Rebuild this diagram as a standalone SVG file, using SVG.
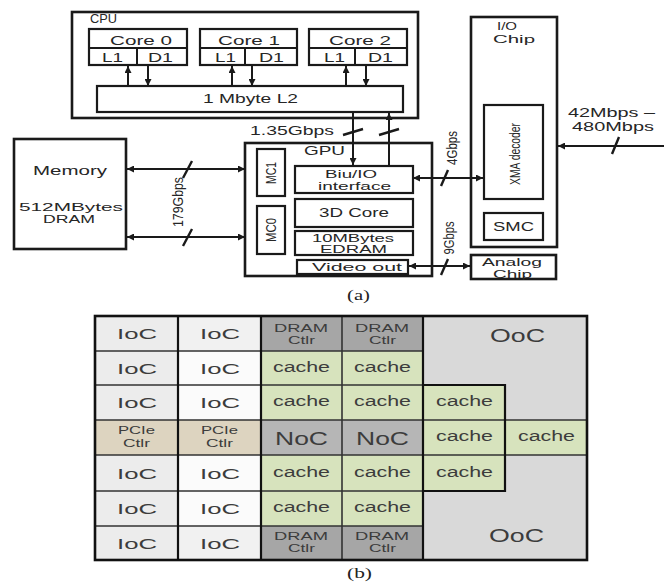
<svg xmlns="http://www.w3.org/2000/svg" width="664" height="583" viewBox="0 0 664 583">
<defs>
<style>
.bx{fill:#fff;stroke:#1a1a1a;stroke-width:2.2}
.ob{fill:#fff;stroke:#1a1a1a;stroke-width:2.6}
.t{font-family:"Liberation Sans",Arial,sans-serif;font-size:13px;fill:#262626}
.t2{font-size:11.5px}
.tv{font-size:14px}
.cap{font-family:"Liberation Serif","Times New Roman",serif;font-size:14px;fill:#222}
.ln{stroke:#1a1a1a;stroke-width:2;fill:none}
.sl{stroke:#1a1a1a;stroke-width:2.4;fill:none}
.gt{font-family:"Liberation Sans",Arial,sans-serif;fill:#3c3c3c}
.ioc{font-size:15.5px}
.ca{font-size:14px}
.sm{font-size:10.5px}
.big{font-size:18px}
.c0{fill:#ececec}
.c1{fill:#fbfbfb}
.c1d{fill:#f1f1f1}
.dr{fill:#a6a6a6}
.ch{fill:#d7e3bd}
.pc{fill:#ddd4c0}
.nc{fill:#b6b6b6}
.oo{fill:#d9d9d9}
.gl{stroke:#333;stroke-width:1.6;fill:none}
.gk{stroke:#111;stroke-width:2.2;fill:none}
</style>
<marker id="ah" viewBox="0 0 10 10" refX="10" refY="5" markerWidth="8" markerHeight="7" orient="auto-start-reverse" markerUnits="userSpaceOnUse">
<path d="M0,0 L10,5 L0,10 z" fill="#1a1a1a"/>
</marker>
</defs>
<rect width="664" height="583" fill="#fff"/>

<!-- Part (a) -->
<g id="cpu">
<rect class="ob" x="72" y="12" width="346" height="106"/>
<text class="t" x="90" y="23" textLength="27" lengthAdjust="spacingAndGlyphs">CPU</text>
</g>
<g id="core0">
<rect class="bx" x="89" y="29" width="98" height="36"/>
<line class="ln" x1="89" y1="48" x2="187" y2="48"/>
<line class="ln" x1="137" y1="48" x2="137" y2="65"/>
<text class="t" x="110" y="45" textLength="62" lengthAdjust="spacingAndGlyphs">Core 0</text>
<text class="t" x="102" y="62" textLength="21" lengthAdjust="spacingAndGlyphs">L1</text>
<text class="t" x="148" y="62" textLength="25" lengthAdjust="spacingAndGlyphs">D1</text>
</g>
<g id="core1">
<rect class="bx" x="200" y="29" width="97" height="36"/>
<line class="ln" x1="200" y1="48" x2="297" y2="48"/>
<line class="ln" x1="245" y1="48" x2="245" y2="65"/>
<text class="t" x="218" y="45" textLength="62" lengthAdjust="spacingAndGlyphs">Core 1</text>
<text class="t" x="215" y="62" textLength="21" lengthAdjust="spacingAndGlyphs">L1</text>
<text class="t" x="259" y="62" textLength="25" lengthAdjust="spacingAndGlyphs">D1</text>
</g>
<g id="core2">
<rect class="bx" x="309" y="29" width="98" height="36"/>
<line class="ln" x1="309" y1="48" x2="407" y2="48"/>
<line class="ln" x1="355" y1="48" x2="355" y2="65"/>
<text class="t" x="329" y="45" textLength="62" lengthAdjust="spacingAndGlyphs">Core 2</text>
<text class="t" x="324" y="62" textLength="21" lengthAdjust="spacingAndGlyphs">L1</text>
<text class="t" x="368" y="62" textLength="25" lengthAdjust="spacingAndGlyphs">D1</text>
</g>
<g id="l2">
<rect class="bx" x="97" y="86" width="306" height="26"/>
<text class="t" x="203" y="103" textLength="95" lengthAdjust="spacingAndGlyphs">1 Mbyte L2</text>
</g>

<g id="memory">
<rect class="ob" x="14" y="139" width="112" height="110"/>
<text class="t" x="33" y="175" textLength="74" lengthAdjust="spacingAndGlyphs">Memory</text>
<text class="t t2" x="19" y="211" textLength="104" lengthAdjust="spacingAndGlyphs">512MBytes</text>
<text class="t t2" x="43" y="223" textLength="52" lengthAdjust="spacingAndGlyphs">DRAM</text>
</g>

<g id="gpu">
<rect class="ob" x="245" y="143" width="187" height="133"/>
<text class="t" x="304" y="155" textLength="41" lengthAdjust="spacingAndGlyphs">GPU</text>
</g>
<g id="mc1">
<rect class="bx" x="257" y="149" width="28" height="47"/>
<text class="t tv" transform="translate(271,173) rotate(-90)" x="-11" y="5" textLength="22" lengthAdjust="spacingAndGlyphs">MC1</text>
</g>
<g id="mc0">
<rect class="bx" x="257" y="206" width="28" height="48"/>
<text class="t tv" transform="translate(271,230) rotate(-90)" x="-12" y="5" textLength="24" lengthAdjust="spacingAndGlyphs">MC0</text>
</g>
<g id="biu">
<rect class="bx" x="295" y="166" width="118" height="27"/>
<text class="t t2" x="325" y="178" textLength="52" lengthAdjust="spacingAndGlyphs">Biu/IO</text>
<text class="t t2" x="318" y="190" textLength="73" lengthAdjust="spacingAndGlyphs">interface</text>
</g>
<g id="core3d">
<rect class="bx" x="295" y="199" width="118" height="28"/>
<text class="t" x="319" y="217" textLength="70" lengthAdjust="spacingAndGlyphs">3D Core</text>
</g>
<g id="edram">
<rect class="bx" x="295" y="231" width="118" height="24"/>
<text class="t t2" x="312" y="241.5" textLength="82" lengthAdjust="spacingAndGlyphs">10MBytes</text>
<text class="t t2" x="320" y="253" textLength="67" lengthAdjust="spacingAndGlyphs">EDRAM</text>
</g>
<g id="video">
<rect class="bx" x="297" y="260" width="111" height="14"/>
<text class="t t2" x="312" y="271" textLength="90" lengthAdjust="spacingAndGlyphs">Video out</text>
</g>

<g id="iochip">
<rect class="ob" x="471" y="17" width="86" height="230"/>
<text class="t t2" x="497" y="30" textLength="20" lengthAdjust="spacingAndGlyphs">I/O</text>
<text class="t t2" x="493" y="43" textLength="42" lengthAdjust="spacingAndGlyphs">Chip</text>
</g>
<g id="xma">
<rect class="bx" x="484" y="105" width="59" height="94"/>
<text class="t" style="font-size:15px" transform="translate(514,154) rotate(-90)" x="-31" y="5.5" textLength="62" lengthAdjust="spacingAndGlyphs">XMA decoder</text>
</g>
<g id="smc">
<rect class="bx" x="484" y="213" width="59" height="27"/>
<text class="t" x="493" y="231" textLength="41" lengthAdjust="spacingAndGlyphs">SMC</text>
</g>
<g id="analog">
<rect class="ob" x="471" y="255" width="85" height="24"/>
<text class="t t2" x="482" y="266" textLength="60" lengthAdjust="spacingAndGlyphs">Analog</text>
<text class="t t2" x="493" y="278" textLength="39" lengthAdjust="spacingAndGlyphs">Chip</text>
</g>

<g id="connectors">
<!-- core <-> L2 -->
<line class="ln" x1="128" y1="86" x2="128" y2="66" marker-end="url(#ah)"/>
<line class="ln" x1="148" y1="66" x2="148" y2="86" marker-end="url(#ah)"/>
<line class="ln" x1="232" y1="86" x2="232" y2="66" marker-end="url(#ah)"/>
<line class="ln" x1="252" y1="66" x2="252" y2="86" marker-end="url(#ah)"/>
<line class="ln" x1="346" y1="86" x2="346" y2="66" marker-end="url(#ah)"/>
<line class="ln" x1="366" y1="66" x2="366" y2="86" marker-end="url(#ah)"/>
<!-- L2 <-> Biu -->
<line class="ln" x1="353" y1="113" x2="353" y2="165" marker-end="url(#ah)"/>
<line class="ln" x1="389" y1="165" x2="389" y2="113" marker-end="url(#ah)"/>
<line class="sl" x1="343" y1="135" x2="363" y2="129"/>
<line class="sl" x1="379" y1="135" x2="399" y2="129"/>
<text class="t" x="250" y="135" textLength="84" lengthAdjust="spacingAndGlyphs">1.35Gbps</text>
<!-- Memory <-> MC -->
<line class="ln" x1="127" y1="169" x2="245" y2="169" marker-start="url(#ah)" marker-end="url(#ah)"/>
<line class="ln" x1="127" y1="237" x2="245" y2="237" marker-start="url(#ah)" marker-end="url(#ah)"/>
<line class="sl" x1="183" y1="178" x2="192" y2="161"/>
<line class="sl" x1="183" y1="246" x2="192" y2="229"/>
<text class="t tv" transform="translate(178,202) rotate(-90)" x="-25" y="5" textLength="50" lengthAdjust="spacingAndGlyphs">179Gbps</text>
<!-- Biu <-> XMA -->
<line class="ln" x1="413" y1="178" x2="483" y2="178" marker-start="url(#ah)" marker-end="url(#ah)"/>
<line class="sl" x1="441" y1="186" x2="448" y2="170"/>
<text class="t tv" transform="translate(452,148) rotate(-90)" x="-17" y="5" textLength="34" lengthAdjust="spacingAndGlyphs">4Gbps</text>
<!-- Video <-> Analog -->
<line class="ln" x1="409" y1="266" x2="470" y2="266" marker-start="url(#ah)" marker-end="url(#ah)"/>
<line class="sl" x1="441" y1="275" x2="448" y2="259"/>
<text class="t tv" transform="translate(449,238) rotate(-90)" x="-16.5" y="5" textLength="33" lengthAdjust="spacingAndGlyphs">9Gbps</text>
<!-- external -> I/O -->
<line class="ln" x1="664" y1="146" x2="558" y2="146" marker-end="url(#ah)"/>
<line class="sl" x1="612" y1="154" x2="619" y2="137"/>
<text class="t" x="568" y="117" textLength="87" lengthAdjust="spacingAndGlyphs">42Mbps –</text>
<text class="t" x="572" y="131" textLength="82" lengthAdjust="spacingAndGlyphs">480Mbps</text>
</g>

<text class="cap" x="347" y="300" textLength="23" lengthAdjust="spacingAndGlyphs">(a)</text>

<!-- Part (b) -->
<g id="ooc-top">
<path class="oo" d="M423,316 H587 V420 H505 V385 H423 Z"/>
<text class="gt big" x="490" y="342" textLength="55" lengthAdjust="spacingAndGlyphs">OoC</text>
</g>
<g id="ooc-bottom">
<path class="oo" d="M423,491 H505 V455 H587 V560 H423 Z"/>
<text class="gt big" x="489" y="542" textLength="55" lengthAdjust="spacingAndGlyphs">OoC</text>
</g>

<!-- row 0 -->
<g id="r0c0"><rect class="c0" x="95" y="316" width="83" height="35"/><text class="gt ioc" x="117" y="339" textLength="40" lengthAdjust="spacingAndGlyphs">IoC</text></g>
<g id="r0c1"><rect class="c1d" x="178" y="316" width="83" height="35"/><text class="gt ioc" x="200" y="339" textLength="40" lengthAdjust="spacingAndGlyphs">IoC</text></g>
<g id="r0c2"><rect class="dr" x="261" y="316" width="81" height="35"/><text class="gt sm" x="274" y="332" textLength="54" lengthAdjust="spacingAndGlyphs">DRAM</text><text class="gt sm" x="288" y="344" textLength="27" lengthAdjust="spacingAndGlyphs">Ctlr</text></g>
<g id="r0c3"><rect class="dr" x="342" y="316" width="81" height="35"/><text class="gt sm" x="355" y="332" textLength="54" lengthAdjust="spacingAndGlyphs">DRAM</text><text class="gt sm" x="369" y="344" textLength="27" lengthAdjust="spacingAndGlyphs">Ctlr</text></g>
<!-- row 1 -->
<g id="r1c0"><rect class="c0" x="95" y="351" width="83" height="34"/><text class="gt ioc" x="117" y="374" textLength="40" lengthAdjust="spacingAndGlyphs">IoC</text></g>
<g id="r1c1"><rect class="c1" x="178" y="351" width="83" height="34"/><text class="gt ioc" x="200" y="374" textLength="40" lengthAdjust="spacingAndGlyphs">IoC</text></g>
<g id="r1c2"><rect class="ch" x="261" y="351" width="81" height="34"/><text class="gt ca" x="273" y="372" textLength="57" lengthAdjust="spacingAndGlyphs">cache</text></g>
<g id="r1c3"><rect class="ch" x="342" y="351" width="81" height="34"/><text class="gt ca" x="354" y="372" textLength="57" lengthAdjust="spacingAndGlyphs">cache</text></g>
<!-- row 2 -->
<g id="r2c0"><rect class="c0" x="95" y="385" width="83" height="35"/><text class="gt ioc" x="117" y="408" textLength="40" lengthAdjust="spacingAndGlyphs">IoC</text></g>
<g id="r2c1"><rect class="c1" x="178" y="385" width="83" height="35"/><text class="gt ioc" x="200" y="408" textLength="40" lengthAdjust="spacingAndGlyphs">IoC</text></g>
<g id="r2c2"><rect class="ch" x="261" y="385" width="81" height="35"/><text class="gt ca" x="273" y="406" textLength="57" lengthAdjust="spacingAndGlyphs">cache</text></g>
<g id="r2c3"><rect class="ch" x="342" y="385" width="81" height="35"/><text class="gt ca" x="354" y="406" textLength="57" lengthAdjust="spacingAndGlyphs">cache</text></g>
<g id="r2c4"><rect class="ch" x="423" y="385" width="82" height="35"/><text class="gt ca" x="436" y="406" textLength="57" lengthAdjust="spacingAndGlyphs">cache</text></g>
<!-- row 3 -->
<g id="r3c0"><rect class="pc" x="95" y="420" width="83" height="35"/><text class="gt sm" x="118" y="434" textLength="37" lengthAdjust="spacingAndGlyphs">PCIe</text><text class="gt sm" x="123" y="447" textLength="27" lengthAdjust="spacingAndGlyphs">Ctlr</text></g>
<g id="r3c1"><rect class="pc" x="178" y="420" width="83" height="35"/><text class="gt sm" x="201" y="434" textLength="37" lengthAdjust="spacingAndGlyphs">PCIe</text><text class="gt sm" x="206" y="447" textLength="27" lengthAdjust="spacingAndGlyphs">Ctlr</text></g>
<g id="r3c2"><rect class="nc" x="261" y="420" width="81" height="35"/><text class="gt big" x="275" y="445" textLength="53" lengthAdjust="spacingAndGlyphs">NoC</text></g>
<g id="r3c3"><rect class="nc" x="342" y="420" width="81" height="35"/><text class="gt big" x="356" y="445" textLength="53" lengthAdjust="spacingAndGlyphs">NoC</text></g>
<g id="r3c4"><rect class="ch" x="423" y="420" width="82" height="35"/><text class="gt ca" x="436" y="441" textLength="57" lengthAdjust="spacingAndGlyphs">cache</text></g>
<g id="r3c5"><rect class="ch" x="505" y="420" width="82" height="35"/><text class="gt ca" x="518" y="441" textLength="57" lengthAdjust="spacingAndGlyphs">cache</text></g>
<!-- row 4 -->
<g id="r4c0"><rect class="c0" x="95" y="455" width="83" height="36"/><text class="gt ioc" x="117" y="479" textLength="40" lengthAdjust="spacingAndGlyphs">IoC</text></g>
<g id="r4c1"><rect class="c1" x="178" y="455" width="83" height="36"/><text class="gt ioc" x="200" y="479" textLength="40" lengthAdjust="spacingAndGlyphs">IoC</text></g>
<g id="r4c2"><rect class="ch" x="261" y="455" width="81" height="36"/><text class="gt ca" x="273" y="477" textLength="57" lengthAdjust="spacingAndGlyphs">cache</text></g>
<g id="r4c3"><rect class="ch" x="342" y="455" width="81" height="36"/><text class="gt ca" x="354" y="477" textLength="57" lengthAdjust="spacingAndGlyphs">cache</text></g>
<g id="r4c4"><rect class="ch" x="423" y="455" width="82" height="36"/><text class="gt ca" x="436" y="477" textLength="57" lengthAdjust="spacingAndGlyphs">cache</text></g>
<!-- row 5 -->
<g id="r5c0"><rect class="c0" x="95" y="491" width="83" height="35"/><text class="gt ioc" x="117" y="514" textLength="40" lengthAdjust="spacingAndGlyphs">IoC</text></g>
<g id="r5c1"><rect class="c1" x="178" y="491" width="83" height="35"/><text class="gt ioc" x="200" y="514" textLength="40" lengthAdjust="spacingAndGlyphs">IoC</text></g>
<g id="r5c2"><rect class="ch" x="261" y="491" width="81" height="35"/><text class="gt ca" x="273" y="512" textLength="57" lengthAdjust="spacingAndGlyphs">cache</text></g>
<g id="r5c3"><rect class="ch" x="342" y="491" width="81" height="35"/><text class="gt ca" x="354" y="512" textLength="57" lengthAdjust="spacingAndGlyphs">cache</text></g>
<!-- row 6 -->
<g id="r6c0"><rect class="c0" x="95" y="526" width="83" height="34"/><text class="gt ioc" x="117" y="549" textLength="40" lengthAdjust="spacingAndGlyphs">IoC</text></g>
<g id="r6c1"><rect class="c1d" x="178" y="526" width="83" height="34"/><text class="gt ioc" x="200" y="549" textLength="40" lengthAdjust="spacingAndGlyphs">IoC</text></g>
<g id="r6c2"><rect class="dr" x="261" y="526" width="81" height="34"/><text class="gt sm" x="274" y="540" textLength="54" lengthAdjust="spacingAndGlyphs">DRAM</text><text class="gt sm" x="288" y="552" textLength="27" lengthAdjust="spacingAndGlyphs">Ctlr</text></g>
<g id="r6c3"><rect class="dr" x="342" y="526" width="81" height="34"/><text class="gt sm" x="355" y="540" textLength="54" lengthAdjust="spacingAndGlyphs">DRAM</text><text class="gt sm" x="369" y="552" textLength="27" lengthAdjust="spacingAndGlyphs">Ctlr</text></g>

<g id="grid-lines">
<path class="gl" d="M95,351 H423 M95,385 H423 M95,420 H587 M95,455 H587 M95,491 H423 M95,526 H423"/>
<path class="gl" d="M342,316 V560"/>
<path class="gk" d="M178,316 V560 M261,316 V560 M423,316 V560"/>
<path class="gk" d="M423,385 H505 V491 H423"/>
<rect x="95" y="316" width="492" height="244" fill="none" stroke="#111" stroke-width="2.6"/>
</g>

<text class="cap" x="347" y="578" textLength="25" lengthAdjust="spacingAndGlyphs">(b)</text>
</svg>
